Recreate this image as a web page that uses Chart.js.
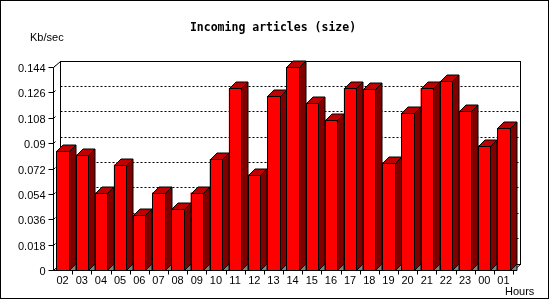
<!DOCTYPE html>
<html>
<head>
<meta charset="utf-8">
<script src="https://cdn.jsdelivr.net/npm/chart.js@4/dist/chart.umd.min.js"></script>
<style>
  body { margin: 0; background: #fff; }
  canvas { display: block; }
</style>
</head>
<body>
<canvas id="myChart" width="550" height="300"></canvas>
<script>
// hours of the day and incoming volume
var hours = ["02", "03", "04", "05", "06", "07", "08", "09", "10", "11", "12", "13",
             "14", "15", "16", "17", "18", "19", "20", "21", "22", "23", "00", "01"];
var kbps = [0.0846, 0.0819, 0.0549, 0.0748, 0.0388, 0.0549, 0.0435, 0.0549,
            0.0786, 0.1289, 0.0677, 0.1232, 0.144, 0.1182, 0.1061, 0.1289,
            0.1281, 0.0762, 0.1113, 0.1289, 0.134, 0.1125, 0.0883, 0.1004];
var yTickLabels = ["0", "0.018", "0.036", "0.054", "0.072", "0.09", "0.108", "0.126", "0.144"];

var titleText = "Incoming articles (size)";
var yUnit = "Kb/sec";
var xUnit = "Hours";

var DX = 6.5, DY = 6.5; // depth of the fake 3d

function px(v) { return Math.round(v) + 0.5; }

function poly(ctx, pts, fill) {
  ctx.beginPath();
  ctx.moveTo(pts[0][0], pts[0][1]);
  for (var i = 1; i < pts.length; i++) ctx.lineTo(pts[i][0], pts[i][1]);
  ctx.closePath();
  if (fill) { ctx.fillStyle = fill; ctx.fill(); }
  ctx.stroke();
}

var frame3d = {
  id: "frame3d",
  beforeDatasetsDraw(chart) {
    var ctx = chart.ctx, a = chart.chartArea, ys = chart.scales.y, xs = chart.scales.x;
    ctx.save();
    ctx.lineWidth = 1;
    ctx.strokeStyle = "#000";

    // outer frame
    ctx.strokeRect(0.5, 0.5, 548, 298);

    var L = px(a.left), B = px(a.bottom), T = px(a.top), R = px(a.right);
    var bl = px(a.left + DX), bt = px(a.top - DY), br = px(a.right + DX), bb = px(a.bottom - DY);

    // back wall
    ctx.strokeRect(bl, bt, br - bl, bb - bt);

    // dotted grid on the back wall
    ctx.setLineDash([2, 2]);
    yTickLabels.forEach(function (t) {
      var v = parseFloat(t);
      if (v <= ys.min || v >= ys.max) return;
      var y = px(ys.getPixelForValue(v) - DY);
      ctx.beginPath();
      ctx.moveTo(bl, y);
      ctx.lineTo(br, y);
      ctx.stroke();
    });
    ctx.setLineDash([]);

    // floor / side edges
    ctx.beginPath();
    ctx.moveTo(L, T); ctx.lineTo(bl, bt);
    ctx.moveTo(L, B); ctx.lineTo(bl, bb);
    ctx.moveTo(R, B); ctx.lineTo(br, bb);
    ctx.stroke();

    // y axis with ticks and labels
    ctx.beginPath();
    ctx.moveTo(L, T); ctx.lineTo(L, B);
    ctx.stroke();
    ctx.font = "11px 'Liberation Sans'";
    ctx.fillStyle = "#000";
    ctx.textAlign = "right";
    ctx.textBaseline = "middle";
    yTickLabels.forEach(function (t) {
      var y = px(ys.getPixelForValue(parseFloat(t)));
      ctx.beginPath();
      ctx.moveTo(L - 5, y); ctx.lineTo(L, y);
      ctx.lineTo(L + 2, y - 2);
      ctx.stroke();
      ctx.fillText(t, L - 8, y + 1);
    });

    ctx.restore();
  },
  afterDatasetsDraw(chart) {
    var ctx = chart.ctx, a = chart.chartArea, xs = chart.scales.x;
    var meta = chart.getDatasetMeta(0);
    ctx.save();
    ctx.lineWidth = 1;
    ctx.strokeStyle = "#000";

    meta.data.forEach(function (bar) {
      var p = bar.getProps(["x", "y", "width", "base"], true);
      var l = px(p.x - p.width / 2), r = px(p.x + p.width / 2);
      var t = px(p.y), b = px(p.base);
      // floor shadow
      poly(ctx, [[r, b], [r + DX, b - DY], [r + DX, b]], "#808080");
      // side
      poly(ctx, [[r, t], [r + DX, t - DY], [r + DX, b - DY], [r, b]], "#800000");
      // top
      poly(ctx, [[l, t], [l + DX, t - DY], [r + DX, t - DY], [r, t]], "#c00000");
      // front
      ctx.fillStyle = "#ff0000";
      ctx.fillRect(l, t, r - l, b - t);
      ctx.strokeRect(l, t, r - l, b - t);
    });

    // x axis, ticks and labels
    var L = px(a.left), B = px(a.bottom), R = px(a.right);
    ctx.beginPath();
    ctx.moveTo(L, B); ctx.lineTo(R, B);
    var step = (xs.right - xs.left) / hours.length;
    for (var i = 1; i <= hours.length; i++) {
      var xt = px(xs.left + step * i);
      ctx.moveTo(xt, B); ctx.lineTo(xt, B + 4);
    }
    ctx.stroke();

    ctx.font = "11px 'Liberation Sans'";
    ctx.fillStyle = "#000";
    ctx.textAlign = "center";
    ctx.textBaseline = "middle";
    hours.forEach(function (h, i) {
      ctx.fillText(h, xs.getPixelForValue(i), 281);
    });

    // units and title
    ctx.textAlign = "left";
    ctx.fillText(yUnit, 30, 38);
    ctx.fillText(xUnit, 505, 292);
    ctx.font = "bold 11.5px 'DejaVu Sans Mono'";
    ctx.textAlign = "center";
    ctx.fillText(titleText, 273, 28);

    ctx.restore();
  }
};

new Chart("myChart", {
  type: "bar",
  data: {
    labels: hours,
    datasets: [
      {
        data: kbps,
        backgroundColor: "#ff0000",
        borderColor: "#000",
        borderWidth: 0,
        categoryPercentage: 1.0,
        barPercentage: 0.65,
      },
    ],
  },
  options: {
    responsive: false,
    animation: false,
    devicePixelRatio: 1,
    layout: { padding: { left: 53, right: 37, top: 67, bottom: 30 } },
    plugins: {
      legend: { display: false },
      title: { display: false },
      tooltip: { enabled: false },
    },
    scales: {
      x: { display: false },
      y: { display: false, min: 0, max: 0.144 },
    },
  },
  plugins: [frame3d],
});
</script>
</body>
</html>
